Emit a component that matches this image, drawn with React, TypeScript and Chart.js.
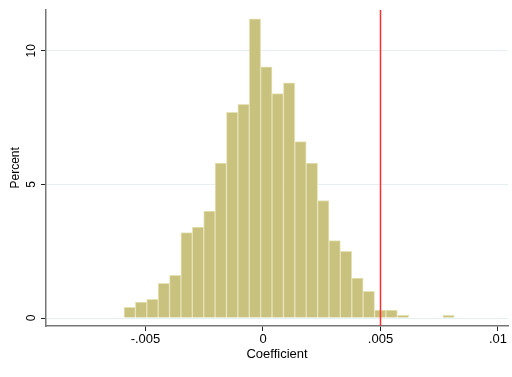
import { useEffect, useRef } from "react";
import { Chart, registerables } from "chart.js";

Chart.register(...registerables);

// Histogram definition (bin left edge and bin width, in coefficient units)
const binStart = -0.005915;
const binWidth = 0.0004846;
// Percent of observations per bin
const percents = [
  0.4, 0.6, 0.7, 1.3, 1.6, 3.2, 3.4, 4.0, 5.8, 7.7, 8.0, 11.2, 9.4, 8.4, 8.8,
  6.6, 5.8, 4.4, 2.9, 2.5, 1.5, 1.0, 0.3, 0.3, 0.1, 0, 0, 0, 0.1,
];
// Reference line
const refLineX = 0.005;
// Axes
const xTickValues = [-0.005, 0, 0.005, 0.01];
const xTickLabels = ["-.005", "0", ".005", ".01"];
const yTickValues = [0, 5, 10];
const yTickLabels = ["0", "5", "10"];
const xRange = [-0.009234, 0.010426];
const yRange = [-0.298, 11.54];
const xTitle = "Coefficient";
const yTitle = "Percent";

const FONT = '"Liberation Sans", Arial, Helvetica, sans-serif';

export default function App() {
  const ref = useRef<HTMLCanvasElement | null>(null);

  useEffect(() => {
    if (!ref.current) return;
    const barData = percents.map((p, i) => ({ x: binStart + (i + 0.5) * binWidth, y: p }));
    const filled = (ctx: any) => ctx.raw && ctx.raw.y > 0;
    const chart = new Chart(ref.current, {
      type: "bar",
      data: {
        datasets: [
          {
            type: "line",
            data: [
              { x: refLineX, y: yRange[0] },
              { x: refLineX, y: yRange[1] },
            ],
            borderColor: "#ff2e2e",
            borderWidth: 1.5,
            pointRadius: 0,
            order: 0,
          } as any,
          {
            type: "bar",
            data: barData,
            backgroundColor: (ctx: any) => (filled(ctx) ? "#c9c27f" : "rgba(0,0,0,0)"),
            borderColor: "#e6e2b6",
            borderWidth: (ctx: any) => (filled(ctx) ? 1 : 0),
            barPercentage: 1,
            categoryPercentage: 1,
            order: 1,
          } as any,
        ],
      },
      options: {
        responsive: false,
        animation: false,
        devicePixelRatio: 1,
        layout: { padding: { top: 8, right: 4, left: 0, bottom: 0 } },
        plugins: { legend: { display: false }, tooltip: { enabled: false } },
        scales: {
          x: {
            type: "linear",
            min: xRange[0],
            max: xRange[1],
            offset: false,
            afterFit: (s: any) => {
              s.height = 51;
            },
            afterBuildTicks: (s: any) => {
              s.ticks = xTickValues.map((v) => ({ value: v }));
            },
            grid: {
              drawOnChartArea: false,
              drawTicks: true,
              tickLength: 5,
              tickColor: "#222",
              tickWidth: 1,
              offset: false,
            },
            border: { display: true, color: "#767676", width: 1.5 },
            ticks: {
              color: "#000",
              font: { family: FONT, size: 13 },
              padding: 1,
              maxRotation: 0,
              minRotation: 0,
              autoSkip: false,
              callback: (v: any) => {
                const i = xTickValues.indexOf(Number(v));
                return i >= 0 ? xTickLabels[i] : "";
              },
            },
            title: {
              display: true,
              text: xTitle,
              color: "#000",
              font: { family: FONT, size: 13, lineHeight: 1.2 },
              padding: { top: 0, bottom: 14.5 },
            },
          },
          y: {
            type: "linear",
            min: yRange[0],
            max: yRange[1],
            afterFit: (s: any) => {
              s.width = 46;
            },
            afterBuildTicks: (s: any) => {
              s.ticks = yTickValues.map((v) => ({ value: v }));
            },
            grid: {
              color: "#e7f0f1",
              lineWidth: 1,
              drawTicks: true,
              tickLength: 5,
              tickColor: "#222",
              tickWidth: 1,
            },
            border: { display: true, color: "#767676", width: 1.5 },
            ticks: {
              color: "#000",
              font: { family: FONT, size: 12 },
              padding: 2.5,
              minRotation: 90,
              maxRotation: 90,
              crossAlign: "center",
              autoSkip: false,
              callback: (v: any) => {
                const i = yTickValues.indexOf(Number(v));
                return i >= 0 ? yTickLabels[i] : "";
              },
            },
            title: {
              display: true,
              text: yTitle,
              color: "#000",
              font: { family: FONT, size: 12, lineHeight: 1.2 },
              padding: { top: 8, bottom: 0 },
            },
          },
        },
      } as any,
    });
    return () => chart.destroy();
  }, []);

  return (
    <div style={{ position: "absolute", left: 0, top: 0, width: 512, height: 377, background: "#fff" }}>
      <canvas ref={ref} width={512} height={377} style={{ display: "block" }} />
    </div>
  );
}
